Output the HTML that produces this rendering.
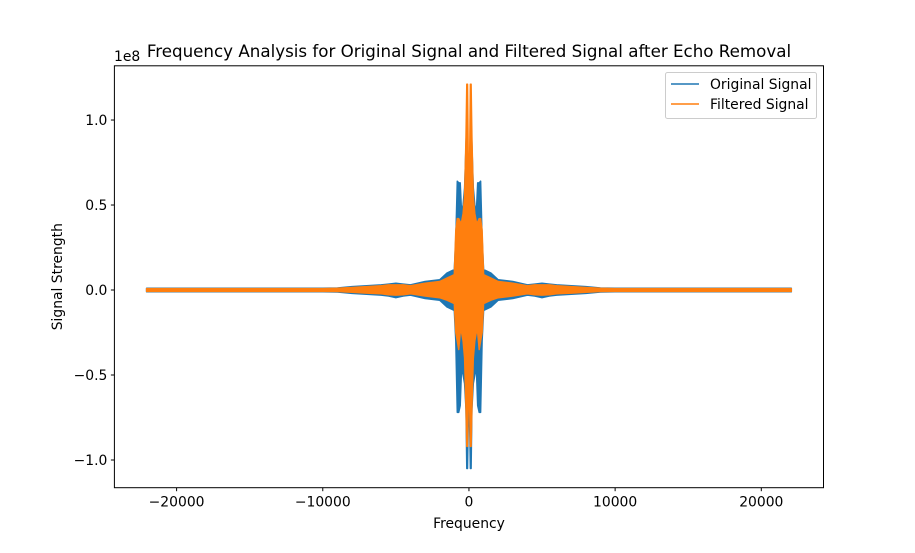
<!DOCTYPE html>
<html><head><meta charset="utf-8"><style>
body{margin:0;background:#fff}
svg text{font-family:"DejaVu Sans","Liberation Sans",sans-serif;fill:#000}
</style></head><body>
<svg id="chart" width="915" height="548" viewBox="0 0 915 548" xmlns="http://www.w3.org/2000/svg">
<rect width="915" height="548" fill="#fff"/>
<text x="469" y="57" font-size="16.7" text-anchor="middle">Frequency Analysis for Original Signal and Filtered Signal after Echo Removal</text>
<g id="series"></g>
<rect x="114.4" y="65.8" width="709.1" height="421.9" fill="none" stroke="#000" stroke-width="1"/>
<g id="xticks"></g><g id="yticks"></g>
<text x="114" y="61" font-size="13.9">1e8</text>
<text x="469" y="528" font-size="13.9" text-anchor="middle">Frequency</text>
<text transform="translate(62,276.7) rotate(-90)" font-size="13.9" text-anchor="middle">Signal Strength</text>
<g>
<rect x="665.5" y="72.5" width="151" height="46" rx="2" fill="#fff" fill-opacity="0.8" stroke="#ccc"/>
<line x1="671" y1="84" x2="699" y2="84" stroke="#1f77b4" stroke-width="1.5"/>
<text x="710" y="89" font-size="13.9">Original Signal</text>
<line x1="671" y1="104" x2="699" y2="104" stroke="#ff7f0e" stroke-width="1.5"/>
<text x="710" y="109" font-size="13.9">Filtered Signal</text>
</g>
</svg>
<script>
const freqs=[-22050,-20000,-15000,-10000,-9000,-8000,-7000,-6000,-5500,-5000,-4500,-4000,-3000,-2000,-1500,-1000,-900,-800,-700,-600,-500,-400,-300,-200,-150,-100,-50,0,50,100,150,200,300,400,500,600,700,800,900,1000,1500,2000,3000,4000,4500,5000,5500,6000,7000,8000,9000,10000,15000,20000,22050];
const blueHi=[0.01,0.01,0.01,0.01,0.012,0.02,0.025,0.03,0.035,0.04,0.035,0.03,0.05,0.06,0.1,0.12,0.3,0.64,0.63,0.63,0.45,0.5,0.6,0.85,1.0,0.7,0.6,0.5,0.6,0.7,1.0,0.85,0.6,0.5,0.45,0.63,0.63,0.64,0.3,0.12,0.1,0.06,0.05,0.03,0.035,0.04,0.035,0.03,0.025,0.02,0.012,0.01,0.01,0.01,0.01];
const blueLo=[-0.01,-0.01,-0.01,-0.01,-0.012,-0.02,-0.025,-0.03,-0.035,-0.045,-0.035,-0.03,-0.05,-0.06,-0.1,-0.12,-0.3,-0.72,-0.72,-0.68,-0.45,-0.5,-0.55,-0.7,-1.05,-1.05,-0.8,-0.6,-0.8,-1.05,-1.05,-0.7,-0.55,-0.5,-0.45,-0.68,-0.72,-0.72,-0.3,-0.12,-0.1,-0.06,-0.05,-0.03,-0.035,-0.045,-0.035,-0.03,-0.025,-0.02,-0.012,-0.01,-0.01,-0.01,-0.01];
const orangeHi=[0.008,0.008,0.008,0.008,0.01,0.015,0.02,0.025,0.03,0.03,0.03,0.025,0.04,0.05,0.07,0.09,0.35,0.42,0.42,0.4,0.4,0.45,0.55,0.9,1.21,1.21,0.8,0.5,0.8,1.21,1.21,0.9,0.55,0.45,0.4,0.4,0.42,0.42,0.35,0.09,0.07,0.05,0.04,0.025,0.03,0.03,0.03,0.025,0.02,0.015,0.01,0.008,0.008,0.008,0.008];
const orangeLo=[-0.008,-0.008,-0.008,-0.008,-0.009,-0.013,-0.018,-0.022,-0.028,-0.03,-0.028,-0.022,-0.035,-0.045,-0.06,-0.08,-0.25,-0.3,-0.35,-0.25,-0.25,-0.3,-0.4,-0.7,-0.92,-0.92,-0.7,-0.5,-0.7,-0.92,-0.92,-0.7,-0.4,-0.3,-0.25,-0.25,-0.35,-0.3,-0.25,-0.08,-0.06,-0.045,-0.035,-0.022,-0.028,-0.03,-0.028,-0.022,-0.018,-0.013,-0.009,-0.008,-0.008,-0.008,-0.008];
const xTicks=[-20000,-10000,0,10000,20000];
const xTickLabels=["\u221220000","\u221210000","0","10000","20000"];
const yTicks=[-1.0,-0.5,0.0,0.5,1.0];
const yTickLabels=["\u22121.0","\u22120.5","0.0","0.5","1.0"];

const L=114.4,R=823.5,T=65.8,B=487.7;
const xmin=-24255,xmax=24255,ymin=-1.163,ymax=1.319;
const sx=v=>L+(v-xmin)/(xmax-xmin)*(R-L);
const sy=v=>B-(v-ymin)/(ymax-ymin)*(B-T);
const NS="http://www.w3.org/2000/svg";
const g=document.getElementById('series');
function band(hi,lo,color,name){
  let d="M"+freqs.map((f,i)=>sx(f).toFixed(1)+","+sy(hi[i]).toFixed(1)).join("L");
  for(let i=freqs.length-1;i>=0;i--) d+="L"+sx(freqs[i]).toFixed(1)+","+sy(lo[i]).toFixed(1);
  d+="Z";
  const p=document.createElementNS(NS,'path');
  p.setAttribute('d',d);p.setAttribute('fill',color);p.setAttribute('stroke',color);
  p.setAttribute('stroke-width','1.5');p.setAttribute('stroke-linejoin','round');
  
  
  g.appendChild(p);
}
band(blueHi,blueLo,'#1f77b4','original-signal-series');
band(orangeHi,orangeLo,'#ff7f0e','filtered-signal-series');
const xt=document.getElementById('xticks');
xTicks.forEach((v,i)=>{
  const x=sx(v);
  const l=document.createElementNS(NS,'line');
  l.setAttribute('x1',x);l.setAttribute('x2',x);l.setAttribute('y1',B);l.setAttribute('y2',B+3.5);l.setAttribute('stroke','#000');
  
  
  xt.appendChild(l);
  const t=document.createElementNS(NS,'text');
  t.setAttribute('x',x);t.setAttribute('y',B+19);t.setAttribute('font-size','13.9');t.setAttribute('text-anchor','middle');
  t.textContent=xTickLabels[i];
  
  
  xt.appendChild(t);
});
const yt=document.getElementById('yticks');
yTicks.forEach((v,i)=>{
  const y=sy(v);
  const l=document.createElementNS(NS,'line');
  l.setAttribute('x1',L-3.5);l.setAttribute('x2',L);l.setAttribute('y1',y);l.setAttribute('y2',y);l.setAttribute('stroke','#000');
  
  
  yt.appendChild(l);
  const t=document.createElementNS(NS,'text');
  t.setAttribute('x',L-7);t.setAttribute('y',y+5);t.setAttribute('font-size','13.9');t.setAttribute('text-anchor','end');
  t.textContent=yTickLabels[i];
  
  
  yt.appendChild(t);
});
</script>
</body></html>
